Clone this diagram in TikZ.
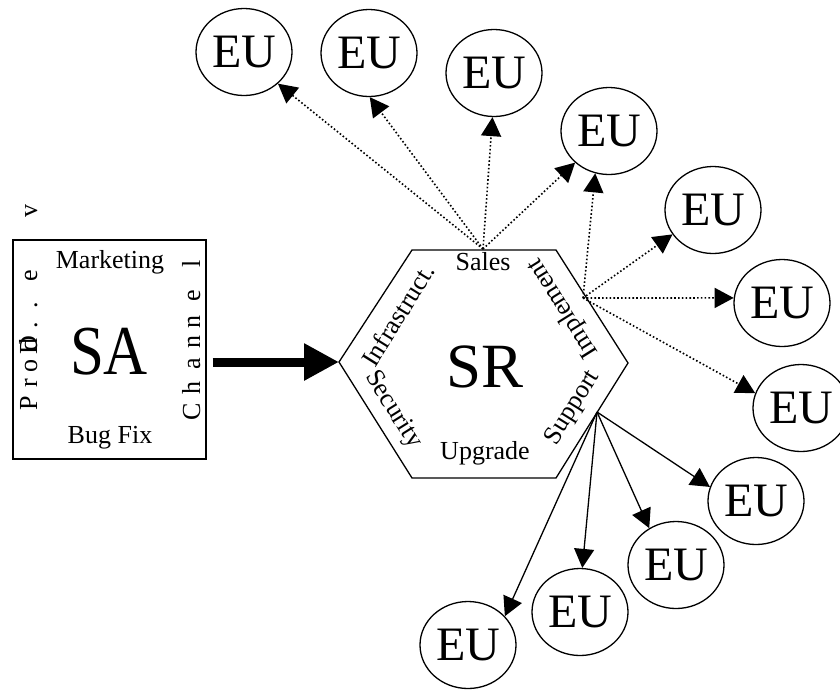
\documentclass[tikz,border=0pt]{standalone}
\usepackage{fontspec}
\setmainfont{Liberation Serif}
\usetikzlibrary{shapes.geometric,arrows.meta}

\tikzset{
  eu/.style={draw, ellipse, line width=1.3pt, minimum width=96pt, minimum height=87pt,
    inner sep=0pt, font=\fontsize{48}{48}\selectfont},
  lbl/.style={inner sep=0pt, font=\fontsize{26}{26}\selectfont},
  vletter/.style={inner sep=0pt, rotate=90, anchor=base, font=\fontsize{26}{26}\selectfont},
  dotarrow/.style={line width=1.6pt, dash pattern=on 1.6pt off 2.2pt,
    -{Triangle[length=19pt,width=20pt]}},
  solidarrow/.style={line width=1.3pt, -{Triangle[length=19pt,width=20pt]}},
  bigarrow/.style={line width=9pt, -{Triangle[length=35pt,width=35pt]}},
}

\begin{document}
\begin{tikzpicture}[x=1pt,y=-1pt]
\useasboundingbox (0,0) rectangle (840,689);

% source box
\node[draw, line width=1.3pt, minimum width=193pt, minimum height=219pt, inner sep=0pt]
  (sa) at (109.5,349.5) {};
\node[inner sep=0pt, font=\fontsize{61}{61}\selectfont] (satext) at (109,352)
  {\scalebox{1}[1.15]{SA}};
\node[lbl] (mkt) at (110,262) {Marketing};
\node[lbl] (bug) at (110,438) {Bug Fix};

% letter-spaced vertical words
\foreach \ch/\yy [count=\i] in {C/412, h/388, a/364, n/342, n/322, e/296, l/264}
  \node[vletter] (ch\i) at (200,\yy) {\ch};
\foreach \ch/\yy [count=\i] in {P/403, r/383, o/366, d/345, D/345, ./325, ./305, e/276, v/211}
  \node[vletter] (pd\i) at (37,\yy) {\ch};

% hexagon
\coordinate (h1) at (412,250);
\coordinate (h2) at (556,250);
\coordinate (h3) at (628,363);
\coordinate (h4) at (556,478);
\coordinate (h5) at (412,478);
\coordinate (h6) at (339,362);
\draw[line width=1.3pt, line join=miter] (h1) -- (h2) -- (h3) -- (h4) -- (h5) -- (h6) -- cycle;

\node[inner sep=0pt, font=\fontsize{63}{63}\selectfont] (sr) at (485,367) {SR};
\node[lbl] (sales) at (483,262) {Sales};
\node[lbl] (upg) at (485,453) {Upgrade};
\node[lbl, rotate=58] (infra) at (398,315) {Infrastruct.};
\node[lbl, rotate=-58] (sec) at (393,410) {Security};
\node[lbl, rotate=58] (sup) at (573,408) {Support};
\node[lbl, rotate=122] (impl) at (563,308) {Implement};

% thick arrow from the box to the hexagon
\draw[bigarrow] ([xshift=6pt]sa.east |- h6) -- (h6);

% end-user nodes
\node[eu] (eu1) at (244,52) {EU};
\node[eu] (eu2) at (369,53) {EU};
\node[eu] (eu3) at (494,73) {EU};
\node[eu] (eu4) at (609,131) {EU};
\node[eu] (eu5) at (713,210) {EU};
\node[eu] (eu6) at (782,303) {EU};
\node[eu] (eu7) at (801,408) {EU};
\node[eu] (eu8) at (756,501) {EU};
\node[eu] (eu9) at (676,565) {EU};
\node[eu] (eu10) at (580,612) {EU};
\node[eu] (eu11) at (468,645) {EU};

% fan-out points on the hexagon
\coordinate (o1) at (483,249);
\coordinate (o2) at (583,298);
\coordinate (o3) at (597,412);

\foreach \t/\a in {eu1/-43, eu2/-89, eu3/-92, eu4/-137}
  \draw[dotarrow] (o1) -- (\t.\a);
\foreach \t/\a in {eu4/-108, eu5/-149, eu6/174, eu7/162}
  \draw[dotarrow] (o2) -- (\t.\a);
\foreach \t/\a in {eu8/163, eu9/126, eu10/87, eu11/38}
  \draw[solidarrow] (o3) -- (\t.\a);
\end{tikzpicture}
\end{document}
